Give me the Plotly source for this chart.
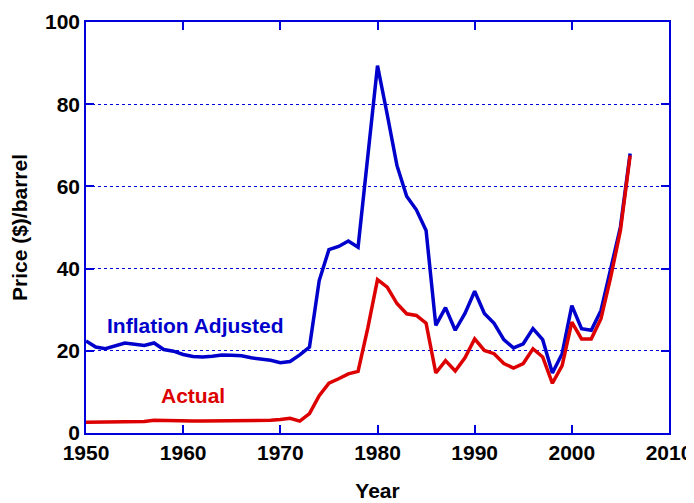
import plotly.graph_objects as go

years = list(range(1950, 2007))

inflation_adjusted = [
    22.4, 20.9, 20.5, 21.3, 21.9, 21.6, 21.3, 21.9, 20.3, 19.9,
    19.1, 18.6, 18.5, 18.7, 19.0, 18.9, 18.8, 18.3, 18.1, 17.7,
    17.1, 17.4, 19.0, 20.9, 37.1, 44.6, 45.4, 46.7, 45.2, 67.5,
    89.4, 77.5, 65.1, 57.6, 54.3, 49.3, 26.2, 30.5, 25.0, 29.1,
    34.5, 29.1, 26.7, 22.7, 20.7, 21.7, 25.4, 22.7, 14.6, 19.3,
    31.0, 25.4, 25.0, 29.8, 39.6, 50.1, 68.0,
]

actual = [
    2.6, 2.6, 2.6, 2.7, 2.8, 2.8, 2.8, 3.1, 3.0, 2.9,
    2.9, 2.9, 2.9, 2.9, 2.9, 2.9, 2.9, 2.9, 3.0, 3.1,
    3.3, 3.6, 2.9, 4.7, 9.1, 12.1, 13.2, 14.4, 15.0, 25.5,
    37.3, 35.5, 31.5, 29.0, 28.6, 26.7, 14.6, 17.6, 15.1, 18.3,
    22.9, 20.1, 19.3, 16.9, 15.8, 16.9, 20.5, 18.5, 12.1, 16.4,
    27.0, 22.9, 22.9, 27.8, 37.9, 49.3, 67.5,
]

x_ticks = [1950, 1960, 1970, 1980, 1990, 2000, 2010]
y_ticks = [0, 20, 40, 60, 80, 100]

BLUE = "#0000CC"
RED = "#DD0000"
AXIS = "#0000DD"
FONT = "Liberation Sans, Arial, sans-serif"

fig = go.Figure()
fig.add_trace(go.Scatter(x=years, y=inflation_adjusted, mode="lines",
                         line=dict(color=BLUE, width=3.5), name="Inflation Adjusted",
                         showlegend=False))
fig.add_trace(go.Scatter(x=years, y=actual, mode="lines",
                         line=dict(color=RED, width=3.5), name="Actual",
                         showlegend=False))

fig.add_annotation(x=1961.3, y=26.2, text="Inflation Adjusted", showarrow=False,
                   font=dict(family=FONT, size=21, color=BLUE, weight="bold"),
                   xanchor="center", yanchor="middle")
fig.add_annotation(x=1961.0, y=9.2, text="Actual", showarrow=False,
                   font=dict(family=FONT, size=21, color=RED, weight="bold"),
                   xanchor="center", yanchor="middle")

fig.update_layout(
    width=694, height=503,
    margin=dict(l=78, r=33, t=14, b=78),
    plot_bgcolor="white", paper_bgcolor="white",
    font=dict(family=FONT, size=20, color="black", weight="bold"),
)
fig.update_xaxes(
    range=[1950, 2010], tickvals=x_ticks, ticks="inside", ticklen=8,
    tickcolor=AXIS, tickwidth=1.5, showline=True, linecolor=AXIS, linewidth=1.5,
    mirror="ticks", showgrid=False, zeroline=False, automargin=False,
    tickfont=dict(family=FONT, size=21, color="black", weight="bold"),
    title=dict(text="Year", standoff=20,
               font=dict(family=FONT, size=21, color="black", weight="bold")),
)
fig.update_yaxes(
    range=[0, 100], tickvals=y_ticks, ticks="inside", ticklen=8,
    tickcolor=AXIS, tickwidth=1.5, showline=True, linecolor=AXIS, linewidth=1.5,
    mirror="ticks", showgrid=True, gridcolor=AXIS, gridwidth=1, griddash="dot",
    zeroline=False, automargin=False,
    tickfont=dict(family=FONT, size=21, color="black", weight="bold"),
    title=dict(text="Price ($)/barrel", standoff=12,
               font=dict(family=FONT, size=21, color="black", weight="bold")),
)

fig.write_html("out.html")
